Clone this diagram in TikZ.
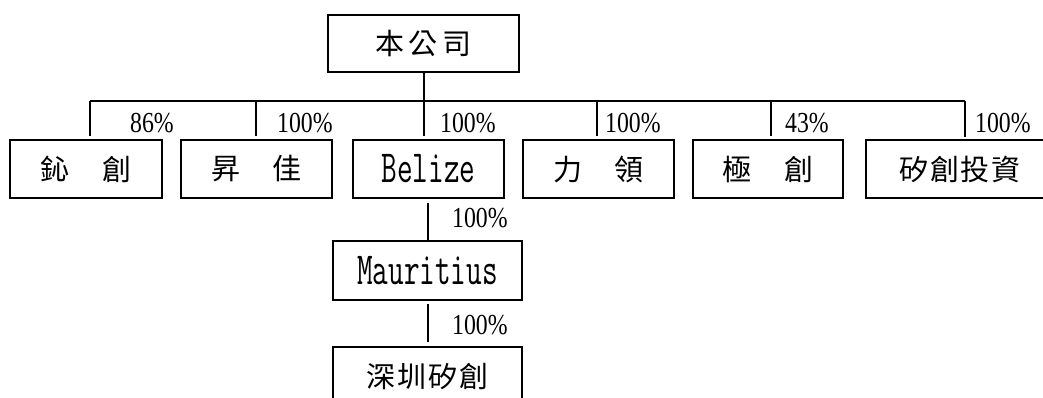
\documentclass[tikz,border=0pt]{standalone}
\usepackage{fontspec}
\newfontfamily\cjk[LetterSpace=6]{Noto Sans CJK TC}
\newfontfamily\topcjk[LetterSpace=16]{Noto Sans CJK TC}
\newfontfamily\nmono[FakeStretch=0.66]{Latin Modern Mono}
\newfontfamily\pct[FakeStretch=0.82]{Liberation Serif}
\begin{document}
\begin{tikzpicture}[x=1pt,y=-1pt,
  box/.style={draw,line width=2pt,inner sep=0pt,minimum height=58pt,anchor=center},
  ck/.style={font=\cjk\fontsize{29pt}{31pt}\selectfont},
  lat/.style={font=\nmono\fontsize{46pt}{48pt}\selectfont},
  pctl/.style={font=\pct\fontsize{29pt}{31pt}\selectfont,anchor=base west,inner sep=0pt},
  conn/.style={line width=2pt}]
\useasboundingbox (0,0) rectangle (1043,397);
\clip (0,0) rectangle (1043,397);
\node[box,font=\topcjk\fontsize{29pt}{31pt}\selectfont,minimum width=191pt,minimum height=57pt] (top) at (423.5,43.5) {本公司};
\node[box,ck,minimum width=152pt] (b1) at (86,169) {鈊　創};
\node[box,ck,minimum width=151pt] (b2) at (256.5,169) {昇　佳};
\node[box,lat,minimum width=151pt] (b3) at (428.5,169) {Belize};
\node[box,ck,minimum width=151pt] (b4) at (598.5,169) {力　領};
\node[box,ck,minimum width=150pt] (b5) at (768,169) {極　創};
\node[box,ck,minimum width=188pt] (b6) at (960,169) {矽創投資};
\node[box,lat,minimum width=189pt,minimum height=59pt] (m) at (427.5,270.5) {Mauritius};
\node[box,ck,minimum width=189pt,minimum height=59pt] (s) at (427.5,376.5) {深圳矽創};
\coordinate (bl) at (90,101);
\coordinate (br) at (965,101);
\coordinate (d2) at (256,101);
\coordinate (d4) at (597,101);
\coordinate (d5) at (771,101);
\draw[conn] (bl) -- (br);
\draw[conn,shorten >=3pt] (top.south) -- (top.south |- b3.north);
\draw[conn,shorten >=3pt] (bl) -- (bl |- b1.north);
\draw[conn,shorten >=3pt] (d2) -- (d2 |- b2.north);
\draw[conn,shorten >=3pt] (d4) -- (d4 |- b4.north);
\draw[conn,shorten >=3pt] (d5) -- (d5 |- b5.north);
\draw[conn,shorten >=2pt] (br) -- (br |- b6.north);
\draw[conn,shorten <=4pt] (m.north |- b3.south) -- (m.north);
\draw[conn,shorten <=3pt,shorten >=4pt] (m.south) -- (s.north);
\node[pctl] (l1) at (130,132) {86\%};
\node[pctl] (l2) at (277,132) {100\%};
\node[pctl] (l3) at (440,132) {100\%};
\node[pctl] (l4) at (605,132) {100\%};
\node[pctl] (l5) at (785,132) {43\%};
\node[pctl] (l6) at (975,132) {100\%};
\node[pctl] (l7) at (452,227) {100\%};
\node[pctl] (l8) at (452,334) {100\%};
\end{tikzpicture}
\end{document}
